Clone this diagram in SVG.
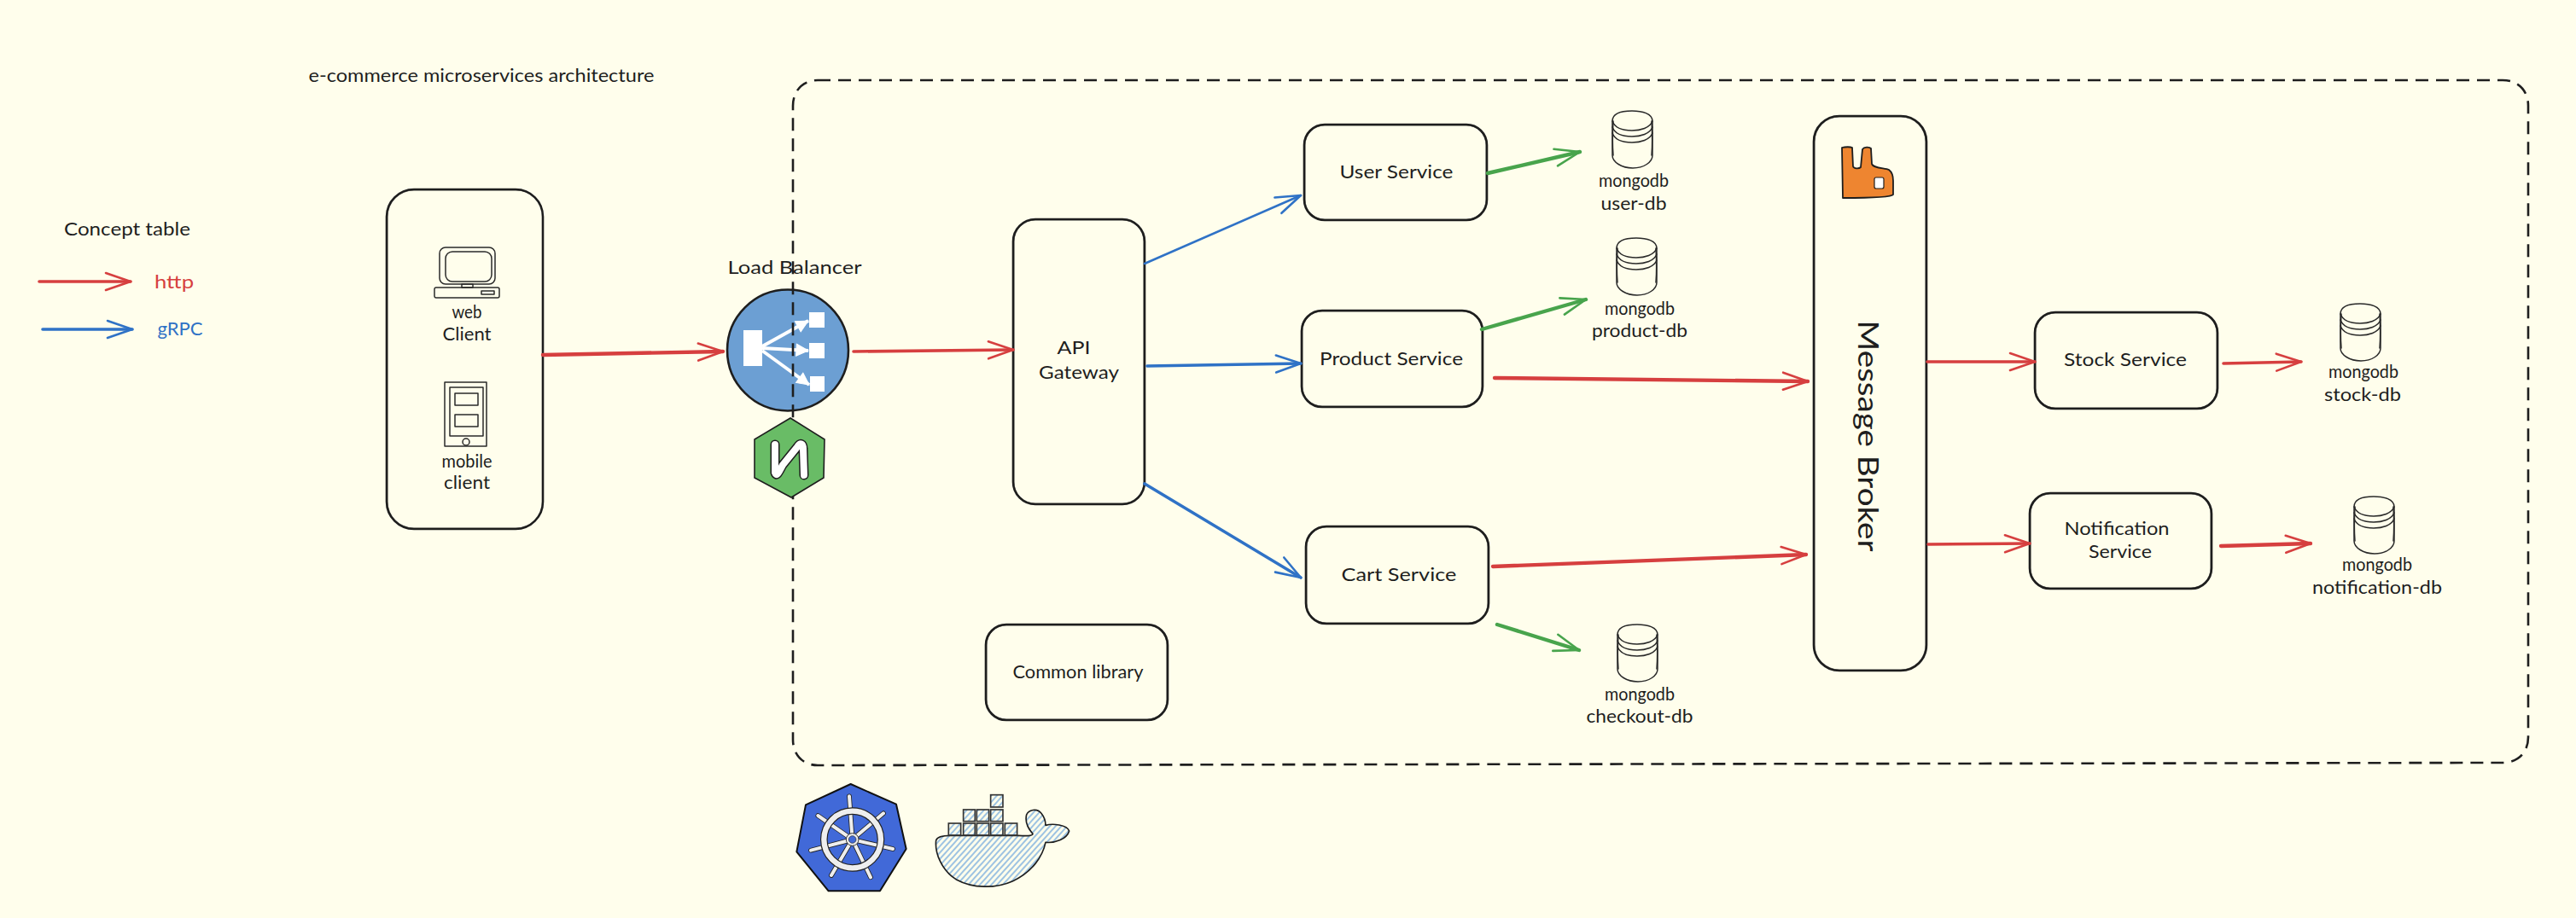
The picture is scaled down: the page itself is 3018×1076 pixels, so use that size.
<svg xmlns="http://www.w3.org/2000/svg" width="3018" height="1076" viewBox="0 0 3018 1076">
<style>
.t{font-family:"Lato","Noto Sans",sans-serif;font-size:21px;fill:#1e1e1e;text-anchor:middle}
.box{fill:none;stroke:#1e1e1e;stroke-width:2.6}
.box2{fill:none;stroke:#1e1e1e;stroke-width:1;opacity:.55}
.ic{fill:none;stroke:#2a2a2a;stroke-width:1.5;stroke-linejoin:round;stroke-linecap:round}
.a{fill:none;stroke-linecap:round;stroke-linejoin:round}
.r{stroke:#d63f3f}.b{stroke:#2f72c6}.g{stroke:#48a44c}
.w3{stroke-width:3.6}.w2{stroke-width:2.6}.w4{stroke-width:4.4}
</style>
<defs>
<marker id="mr" viewBox="-32 -13 36 26" markerUnits="userSpaceOnUse" markerWidth="36" markerHeight="26" refX="0" refY="0" orient="auto"><path d="M-29-10 0 0-29 10" fill="none" stroke="#d63f3f" stroke-width="2.6" stroke-linecap="round" stroke-linejoin="round"/></marker>
<marker id="mb" viewBox="-32 -13 36 26" markerUnits="userSpaceOnUse" markerWidth="36" markerHeight="26" refX="0" refY="0" orient="auto"><path d="M-29-10 0 0-29 10" fill="none" stroke="#2f72c6" stroke-width="2.6" stroke-linecap="round" stroke-linejoin="round"/></marker>
<marker id="mg" viewBox="-32 -13 36 26" markerUnits="userSpaceOnUse" markerWidth="36" markerHeight="26" refX="0" refY="0" orient="auto"><path d="M-29-10 0 0-29 10" fill="none" stroke="#48a44c" stroke-width="2.6" stroke-linecap="round" stroke-linejoin="round"/></marker>
<marker id="mw" viewBox="-20 -10 22 20" markerUnits="userSpaceOnUse" markerWidth="22" markerHeight="20" refX="0" refY="0" orient="auto"><path d="M-14-7 0 0-14 7z" fill="#fff" stroke="#fff" stroke-width="1"/></marker>
<pattern id="hatch" width="15" height="15" patternUnits="userSpaceOnUse" patternTransform="rotate(42)"><line x1="3" y1="0" x2="3" y2="15" stroke="#5b9bdc" stroke-width="3.6"/></pattern>
<g id="db" class="ic" fill="none">
<path d="M1 12C1 3 12 0 24 0S48 3 48 12V52C48 60 38 67 25 67S1 60 1 52Z"/>
<path d="M1 12C4 20 14 23 24 23S45 20 48 12"/>
<path d="M1 19C4 27 14 30 24 30S45 27 48 19"/>
<path d="M1 26C4 34 14 37 24 37S45 34 48 26"/>
<path d="M2 12C1 30 1 40 2 52M47 12C48 30 48 40 47 52"/>
</g>
</defs>
<rect width="3018" height="1076" fill="#fffeec"/>

<text id="title" class="t" x="564" y="96" textLength="405" lengthAdjust="spacingAndGlyphs">e-commerce microservices architecture</text>

<g id="concept-table">
<text class="t" x="149" y="276" textLength="148" lengthAdjust="spacingAndGlyphs">Concept table</text>
<text class="t" x="204" y="338" style="fill:#d63f3f" textLength="46" lengthAdjust="spacingAndGlyphs">http</text>
<text class="t" x="211" y="393" style="fill:#2f72c6" textLength="53" lengthAdjust="spacingAndGlyphs">gRPC</text>
</g>

<g id="clients">
<rect class="box" x="453" y="222" width="183" height="398" rx="32"/>
<rect class="box2" x="454" y="223" width="182" height="396" rx="31"/>
<g id="web-client">
<rect class="ic" x="515" y="290" width="65" height="43" rx="7"/>
<rect class="ic" x="522" y="295" width="54" height="35" rx="8"/>
<rect class="ic" x="541" y="333" width="13" height="4"/>
<rect class="ic" x="509" y="337" width="76" height="12" rx="2"/>
<rect class="ic" x="564" y="341" width="15" height="4"/>
<text class="t" x="547" y="373" textLength="35" lengthAdjust="spacingAndGlyphs">web</text>
<text class="t" x="547" y="399" textLength="57" lengthAdjust="spacingAndGlyphs">Client</text>
</g>
<g id="mobile-client">
<rect class="ic" x="521" y="448" width="49" height="75"/>
<rect class="ic" x="527" y="454" width="39" height="57"/>
<rect class="ic" x="533" y="461" width="27" height="14"/>
<rect class="ic" x="533" y="486" width="27" height="14"/>
<circle class="ic" cx="546" cy="518" r="4"/>
<text class="t" x="547" y="548" textLength="59" lengthAdjust="spacingAndGlyphs">mobile</text>
<text class="t" x="547" y="573" textLength="54" lengthAdjust="spacingAndGlyphs">client</text>
</g>
</g>

<g id="load-balancer">
<text class="t" x="931" y="321" textLength="157" lengthAdjust="spacingAndGlyphs">Load Balancer</text>
<circle cx="923" cy="410.5" r="71" fill="#6c9fd3" stroke="#1e1e1e" stroke-width="2.6"/>
<rect x="871" y="387" width="22" height="42" fill="#fff"/>
<rect x="948" y="366" width="18" height="18" fill="#fff"/>
<rect x="948" y="402" width="18" height="18" fill="#fff"/>
<rect x="949" y="441" width="17" height="18" fill="#fff"/>
<path d="M893 406 947 376" stroke="#fff" stroke-width="4" marker-end="url(#mw)"/>
<path d="M893 408 947 411" stroke="#fff" stroke-width="4" marker-end="url(#mw)"/>
<path d="M893 411 948 451" stroke="#fff" stroke-width="4" marker-end="url(#mw)"/>
</g>

<g id="boundary"><path d="M958 94H2932C2950 94 2962 106 2962 124V864C2962 882 2950 894 2932 894L958 897C941 897 929 885 929 867V124C929 106 941 94 958 94Z" fill="none" stroke="#1e1e1e" stroke-width="2.6" stroke-dasharray="15 9"/></g>

<g id="nginx">
<path d="M926 490 966 515 965 560 927 583 884 560 884 515Z" fill="#69bc66" stroke="#1e1e1e" stroke-width="1.6"/>
<g fill="none" stroke-linecap="round" stroke-linejoin="round">
<path d="M908 521 908 554C910 560 913 552 917 545L934 524C938 518 941 520 941 526L942 557" stroke="#1e1e1e" stroke-width="11"/>
<path d="M908 521 908 554C910 560 913 552 917 545L934 524C938 518 941 520 941 526L942 557" stroke="#fff" stroke-width="8"/>
</g>
</g>

<g id="api-gateway">
<rect class="box" x="1187" y="257" width="154" height="334" rx="26"/>
<rect class="box2" x="1188" y="258" width="152" height="332" rx="25"/>
<text class="t" x="1258" y="415" textLength="39" lengthAdjust="spacingAndGlyphs">API</text>
<text class="t" x="1264" y="444" textLength="94" lengthAdjust="spacingAndGlyphs">Gateway</text>
</g>

<g id="user-service">
<rect class="box" x="1528" y="146" width="214" height="112" rx="24"/>
<rect class="box2" x="1529" y="147" width="212" height="110" rx="23"/>
<text class="t" x="1636" y="209" textLength="133" lengthAdjust="spacingAndGlyphs">User Service</text>
</g>
<g id="product-service">
<rect class="box" x="1525" y="364" width="212" height="113" rx="24"/>
<rect class="box2" x="1526" y="365" width="210" height="111" rx="23"/>
<text class="t" x="1630" y="428" textLength="168" lengthAdjust="spacingAndGlyphs">Product Service</text>
</g>
<g id="cart-service">
<rect class="box" x="1530" y="617" width="214" height="114" rx="24"/>
<rect class="box2" x="1531" y="618" width="212" height="112" rx="23"/>
<text class="t" x="1639" y="681" textLength="135" lengthAdjust="spacingAndGlyphs">Cart Service</text>
</g>
<g id="common-library">
<rect class="box" x="1155" y="732" width="213" height="112" rx="24"/>
<rect class="box2" x="1156" y="733" width="211" height="110" rx="23"/>
<text class="t" x="1263" y="795" textLength="153" lengthAdjust="spacingAndGlyphs">Common library</text>
</g>

<g id="user-db"><use href="#db" x="1888" y="130"/>
<text class="t" x="1914" y="219" textLength="82" lengthAdjust="spacingAndGlyphs">mongodb</text>
<text class="t" x="1914" y="246" textLength="77" lengthAdjust="spacingAndGlyphs">user-db</text></g>
<g id="product-db"><use href="#db" x="1893" y="279"/>
<text class="t" x="1921" y="369" textLength="82" lengthAdjust="spacingAndGlyphs">mongodb</text>
<text class="t" x="1921" y="395" textLength="112" lengthAdjust="spacingAndGlyphs">product-db</text></g>
<g id="checkout-db"><use href="#db" x="1894" y="732"/>
<text class="t" x="1921" y="821" textLength="82" lengthAdjust="spacingAndGlyphs">mongodb</text>
<text class="t" x="1921" y="847" textLength="125" lengthAdjust="spacingAndGlyphs">checkout-db</text></g>

<g id="message-broker">
<rect class="box" x="2125" y="136" width="132" height="650" rx="30"/>
<rect class="box2" x="2126" y="137" width="130" height="648" rx="29"/>
<path d="M2158 173C2162 172 2168 172 2170 173L2171 195C2172 198 2178 198 2180 196L2182 175C2184 172 2190 172 2192 174L2193 192C2194 197 2208 197 2213 199 2217 202 2218 206 2218 212L2218 228C2216 232 2180 232 2159 232Z" fill="#ee8530" stroke="#1e1e1e" stroke-width="1.8" stroke-linejoin="round"/>
<rect x="2196" y="208" width="11" height="13" rx="2" fill="#fff" stroke="#1e1e1e" stroke-width="1.2"/>
<text class="t" transform="translate(2177 511) rotate(90)" style="font-size:32px" textLength="271" lengthAdjust="spacingAndGlyphs">Message Broker</text>
</g>

<g id="stock-service">
<rect class="box" x="2384" y="366" width="214" height="113" rx="24"/>
<rect class="box2" x="2385" y="367" width="212" height="111" rx="23"/>
<text class="t" x="2490" y="429" textLength="144" lengthAdjust="spacingAndGlyphs">Stock Service</text>
</g>
<g id="notification-service">
<rect class="box" x="2378" y="578" width="213" height="112" rx="24"/>
<rect class="box2" x="2379" y="579" width="211" height="110" rx="23"/>
<text class="t" x="2480" y="627" textLength="123" lengthAdjust="spacingAndGlyphs">Notification</text>
<text class="t" x="2484" y="654" textLength="74" lengthAdjust="spacingAndGlyphs">Service</text>
</g>
<g id="stock-db"><use href="#db" x="2741" y="356"/>
<text class="t" x="2769" y="443" textLength="82" lengthAdjust="spacingAndGlyphs">mongodb</text>
<text class="t" x="2768" y="470" textLength="90" lengthAdjust="spacingAndGlyphs">stock-db</text></g>
<g id="notification-db"><use href="#db" x="2757" y="582"/>
<text class="t" x="2785" y="669" textLength="82" lengthAdjust="spacingAndGlyphs">mongodb</text>
<text class="t" x="2785" y="696" textLength="152" lengthAdjust="spacingAndGlyphs">notification-db</text></g>

<g id="kubernetes" transform="translate(900 900) scale(.3333)">
<path d="M290 57 450 128 485 285 393 433 212 433 100 295 132 130Z" fill="#4169d8" stroke="#111" stroke-width="6" stroke-linejoin="round"/>
<g fill="none" stroke-linecap="round">
<path d="M296 252 285 100M296 252 405 160M296 252 438 285M296 252 360 385M296 252 222 378M296 252 150 290M296 252 175 168" stroke="#222" stroke-width="17"/>
<path d="M296 252 285 100M296 252 405 160M296 252 438 285M296 252 360 385M296 252 222 378M296 252 150 290M296 252 175 168" stroke="#eee" stroke-width="12"/>
<circle cx="296" cy="252" r="100" stroke="#222" stroke-width="26"/>
<circle cx="296" cy="252" r="100" stroke="#eee" stroke-width="19"/>
</g>
<circle cx="296" cy="252" r="22" fill="#eee" stroke="#333" stroke-width="3"/>
<circle cx="296" cy="252" r="13" fill="#4169d8" stroke="#222" stroke-width="2"/>
</g>

<g id="docker" transform="translate(900 900) scale(.3333)">
<path d="M590 255C595 240 620 238 640 238H880C905 240 930 240 930 232 915 215 902 190 908 165 915 148 945 140 960 160 972 175 975 190 975 202 1000 195 1050 200 1058 222 1050 250 1010 265 975 262 965 310 930 365 860 398 800 425 720 425 660 392 610 360 585 300 590 255Z" fill="url(#hatch)" stroke="#1e1e1e" stroke-width="5" stroke-linejoin="round"/>
<g fill="url(#hatch)" stroke="#333" stroke-width="5">
<rect x="782" y="95" width="43" height="43"/>
<rect x="686" y="147" width="41" height="41"/><rect x="733" y="147" width="43" height="41"/><rect x="782" y="147" width="43" height="41"/>
<rect x="634" y="195" width="43" height="42"/><rect x="686" y="195" width="41" height="42"/><rect x="733" y="195" width="43" height="42"/><rect x="782" y="195" width="43" height="42"/><rect x="832" y="195" width="43" height="42"/>
</g>
</g>

<g id="connectors">
<path class="a r w3" marker-end="url(#mr)" d="M46 330H153"/>
<path class="a b w3" marker-end="url(#mb)" d="M50 386H155"/>
<path class="a r w4" marker-end="url(#mr)" d="M636 416 847 412"/>
<path class="a r w3" marker-end="url(#mr)" d="M1000 412 1187 410"/>
<path class="a b w2" marker-end="url(#mb)" d="M1341 309 1524 229"/>
<path class="a b w3" marker-end="url(#mb)" d="M1344 429 1524 426"/>
<path class="a b w3" marker-end="url(#mb)" d="M1341 567 1524 677"/>
<path class="a g w4" marker-end="url(#mg)" d="M1743 203 1851 178"/>
<path class="a g w4" marker-end="url(#mg)" d="M1736 386 1858 351"/>
<path class="a g w4" marker-end="url(#mg)" d="M1754 732 1850 762"/>
<path class="a r w4" marker-end="url(#mr)" d="M1751 443 2118 447"/>
<path class="a r w4" marker-end="url(#mr)" d="M1749 664 2116 650"/>
<path class="a r w3" marker-end="url(#mr)" d="M2258 424H2384"/>
<path class="a r w3" marker-end="url(#mr)" d="M2259 638 2378 637"/>
<path class="a r w3" marker-end="url(#mr)" d="M2605 426 2696 424"/>
<path class="a r w4" marker-end="url(#mr)" d="M2602 640 2707 637"/>
</g>
</svg>
